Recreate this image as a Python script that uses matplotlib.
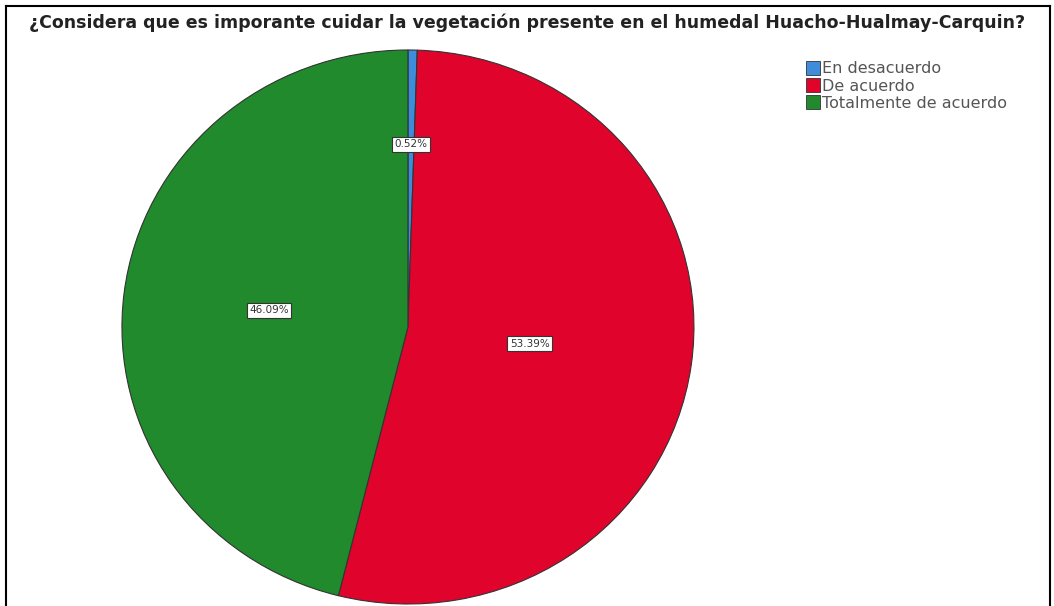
import matplotlib.pyplot as plt
import numpy as np
from matplotlib.patches import Patch
from matplotlib.lines import Line2D

# Data
categories = ['En desacuerdo', 'De acuerdo', 'Totalmente de acuerdo']
percentages = [0.52, 53.39, 46.09]
colors = ['#3d8ddb', '#e0032c', '#208a2c']
label_radius = [0.66, 0.43, 0.49]
title = '¿Considera que es imporante cuidar la vegetación presente en el humedal Huacho-Hualmay-Carquin?'

plt.rcParams['font.family'] = ['DejaVu Sans']

fig = plt.figure(figsize=(10.54, 6.06), dpi=100)

# pie axes (slightly wider than tall, like the reference)
ax = fig.add_axes([0.1157, 0.0033, 0.5427, 0.9142])
wedges, _ = ax.pie(percentages, colors=colors, startangle=90, counterclock=False,
                   wedgeprops=dict(edgecolor='#333333', linewidth=0.8))
ax.set_aspect('auto')
ax.set_xlim(-1, 1)
ax.set_ylim(-1, 1)

for w, p, r in zip(wedges, percentages, label_radius):
    ang = np.deg2rad((w.theta1 + w.theta2) / 2)
    ax.text(r * np.cos(ang), r * np.sin(ang), f'{p:.2f}%', ha='center', va='center',
            fontsize=7.5, color='#333333',
            bbox=dict(facecolor='white', edgecolor='#333333', linewidth=0.8, pad=1.8))

fig.text(0.5, 0.962, title, ha='center', va='center', fontsize=12.5, fontweight='bold',
         color='#222222')

handles = [Patch(facecolor=c, edgecolor='#333333', linewidth=0.6) for c in colors]
fig.legend(handles, categories, loc='upper left', bbox_to_anchor=(0.757, 0.912),
           frameon=False, fontsize=11.5, handlelength=0.9, handleheight=0.9,
           handletextpad=0.12, labelspacing=0.12, borderpad=0, labelcolor='#555555')

# outer frame on left, top, right
for xs, ys in [([0.006, 0.006], [0, 0.99]), ([0.006, 0.996], [0.99, 0.99]),
               ([0.996, 0.996], [0, 0.99])]:
    fig.add_artist(Line2D(xs, ys, transform=fig.transFigure, color='black', linewidth=1.5))

fig.savefig('out.png', dpi=100)
